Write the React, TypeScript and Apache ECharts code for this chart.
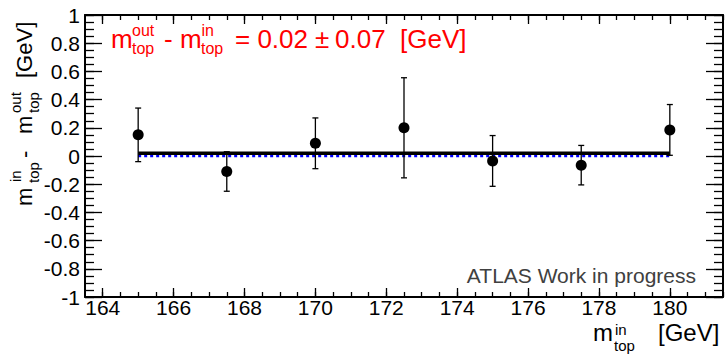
import React, { useEffect, useRef } from "react";
import * as echarts from "echarts";

// ---- data ----
const massIn = [165, 167.5, 170, 172.5, 175, 177.5, 180];
const diffValues = [0.15, -0.11, 0.09, 0.2, -0.035, -0.065, 0.185];
const diffErrors = [0.19, 0.14, 0.18, 0.355, 0.18, 0.14, 0.18];
const fitValue = 0.02;
const refValue = 0;
const xMajorTicks = [164, 166, 168, 170, 172, 174, 176, 178, 180];
const yMajorTicks = [-1, -0.8, -0.6, -0.4, -0.2, 0, 0.2, 0.4, 0.6, 0.8, 1];

const xMinorTicks: number[] = [];
for (let i = 0; i <= 35; i++) xMinorTicks.push(164 + i * 0.5);
const yMinorTicks: number[] = [];
for (let i = 0; i <= 40; i++) yMinorTicks.push(Math.round((-1 + i * 0.05) * 100) / 100);

const FONT = "'Liberation Sans', Arial, Helvetica, sans-serif";

function txt(x: number, baseline: number, text: string, size: number, fill: string, align = "left") {
  return {
    type: "text",
    x,
    y: baseline - 0.3465 * size,
    style: { text, fontSize: size, fontFamily: FONT, fill, align, verticalAlign: "middle", lineHeight: size },
  };
}

export default function App() {
  const ref = useRef<HTMLDivElement>(null);
  useEffect(() => {
    document.body.style.margin = "0";
    const chart = echarts.init(ref.current!, null, { renderer: "svg" });
    const X0 = 163.5, X1 = 181.5;
    const axisLine = { show: true, onZero: false, lineStyle: { color: "#000", width: 2 } };
    const noLine = { show: false, onZero: false };
    const noLabel = { show: false };
    const mkX = (pos: string, ticks: number[], len: number, labels: boolean, line: boolean) => ({
      type: "value",
      position: pos,
      min: X0,
      max: X1,
      axisLine: line ? axisLine : noLine,
      splitLine: { show: false },
      axisTick: { show: true, inside: true, length: len, customValues: ticks, lineStyle: { color: "#000", width: 1.3 } },
      axisLabel: labels
        ? { show: true, customValues: xMajorTicks, fontSize: 21, lineHeight: 19, fontFamily: FONT, color: "#000", margin: 1 }
        : noLabel,
    });
    const mkY = (pos: string, ticks: number[], len: number, labels: boolean, line: boolean) => ({
      type: "value",
      position: pos,
      min: -1,
      max: 1,
      axisLine: line ? axisLine : noLine,
      splitLine: { show: false },
      axisTick: { show: true, inside: true, length: len, customValues: ticks, lineStyle: { color: "#000", width: 1.3 } },
      axisLabel: labels
        ? {
            show: true,
            customValues: yMajorTicks,
            fontSize: 21,
            fontFamily: FONT,
            color: "#000",
            margin: 5,
            formatter: (v: number) => String(Math.round(v * 10) / 10),
          }
        : noLabel,
    });

    const points = massIn.map((x, i) => [x, diffValues[i]]);
    const errData = massIn.map((x, i) => [x, diffValues[i], diffErrors[i]]);
    const xFirst = massIn[0], xLast = massIn[massIn.length - 1];

    const red = "#ff0000";
    const redText = [
      txt(111, 48, "m", 26, red),
      txt(132, 36, "out", 16, red),
      txt(132, 54, "top", 16, red),
      txt(164, 48, "-", 26, red),
      txt(180, 48, "m", 26, red),
      txt(201.5, 36, "in", 16, red),
      txt(201, 54, "top", 16, red),
      txt(235, 48, "= 0.02", 26, red),
      txt(315, 48, "\u00b1", 26, red),
      txt(335, 48, "0.07", 26, red),
      txt(400, 48, "[GeV]", 26, red),
    ];
    const blk = "#000";
    const xTitle = [
      txt(593, 341, "m", 24, blk),
      txt(615, 335, "in", 15, blk),
      txt(614, 351, "top", 15, blk),
      txt(658, 341, "[GeV]", 24, blk),
    ];
    const yTitle = {
      type: "group",
      x: 32,
      y: 205,
      rotation: Math.PI / 2,
      children: [
        txt(-1, 0, "m", 22, blk),
        txt(23, -11, "in", 15, blk),
        txt(22, 7, "top", 15, blk),
        txt(47, 0, "-", 22, blk),
        txt(71, 0, "m", 22, blk),
        txt(92, -11, "out", 15, blk),
        txt(92, 7, "top", 15, blk),
        txt(127, 0, "[GeV]", 22, blk),
      ],
    };
    const atlas = txt(696, 283, "ATLAS Work in progress", 21, "#404040", "right");

    chart.setOption({
      animation: false,
      backgroundColor: "#fff",
      grid: { left: 85, right: 2, top: 15, bottom: 57, outerBoundsMode: "none", containLabel: false },
      xAxis: [
        mkX("bottom", xMajorTicks, 9, true, true),
        mkX("bottom", xMinorTicks, 5, false, false),
        mkX("top", xMajorTicks, 9, false, true),
        mkX("top", xMinorTicks, 5, false, false),
      ],
      yAxis: [
        mkY("left", yMajorTicks, 17, true, true),
        mkY("left", yMinorTicks, 9, false, false),
        mkY("right", yMajorTicks, 17, false, true),
        mkY("right", yMinorTicks, 9, false, false),
      ],
      series: [
        {
          type: "line",
          data: [[xFirst, refValue], [xLast, refValue]],
          symbol: "none",
          lineStyle: { color: "#0000ff", width: 2.6, type: [3, 3] },
          z: 3,
        },
        {
          type: "line",
          data: [[xFirst, fitValue], [xLast, fitValue]],
          symbol: "none",
          lineStyle: { color: "#000", width: 3.6 },
          z: 4,
        },
        {
          type: "custom",
          data: errData,
          z: 5,
          renderItem: (params: any, api: any) => {
            const x = api.value(0), y = api.value(1), e = api.value(2);
            const top = api.coord([x, y + e]);
            const bot = api.coord([x, y - e]);
            const st = { stroke: "#000", lineWidth: 1.3 };
            return {
              type: "group",
              children: [
                { type: "line", shape: { x1: top[0], y1: top[1], x2: bot[0], y2: bot[1] }, style: st },
                { type: "line", shape: { x1: top[0] - 3, y1: top[1], x2: top[0] + 3, y2: top[1] }, style: st },
                { type: "line", shape: { x1: bot[0] - 3, y1: bot[1], x2: bot[0] + 3, y2: bot[1] }, style: st },
              ],
            };
          },
        },
        {
          type: "scatter",
          data: points,
          symbol: "circle",
          symbolSize: 11,
          itemStyle: { color: "#000", opacity: 1 },
          z: 6,
        },
      ],
      graphic: [...redText, ...xTitle, yTitle, atlas],
    });
    return () => chart.dispose();
  }, []);
  return <div ref={ref} style={{ width: 725, height: 354 }} />;
}
